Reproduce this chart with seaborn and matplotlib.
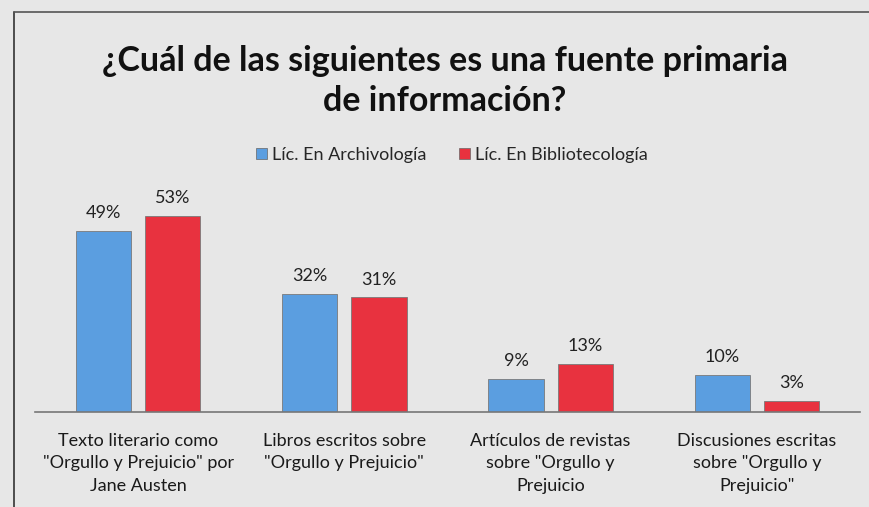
import matplotlib
matplotlib.use("Agg")
import matplotlib.pyplot as plt
import seaborn as sns
import pandas as pd

# data
categories = [
    'Texto literario como\n"Orgullo y Prejuicio" por\nJane Austen',
    'Libros escritos sobre\n"Orgullo y Prejuicio"',
    'Artículos de revistas\nsobre "Orgullo y\nPrejuicio',
    'Discusiones escritas\nsobre "Orgullo y\nPrejuicio"',
]
series_names = ["Líc. En Archivología", "Líc. En Bibliotecología"]
archivologia = [49, 32, 9, 10]
bibliotecologia = [53, 31, 13, 3]
colors = ["#5b9ee0", "#e8323f"]

df = pd.DataFrame({
    "categoria": categories * 2,
    "carrera": [series_names[0]] * 4 + [series_names[1]] * 4,
    "valor": archivologia + bibliotecologia,
})

sns.set_theme(style="white")
plt.rcParams["font.family"] = ["Lato", "DejaVu Sans"]
bg = "#e7e7e7"

fig = plt.figure(figsize=(8.7, 5.07), dpi=100, facecolor=bg)
ax = fig.add_axes([35 / 870, 1 - 412 / 507, 825 / 870, 222 / 507])
ax.set_facecolor(bg)

sns.barplot(data=df, x="categoria", y="valor", hue="carrera",
            palette=colors, saturation=1, width=0.67, gap=0.2, ax=ax,
            edgecolor="#7a7a7a", linewidth=0.6, legend=False)

for cont in ax.containers:
    ax.bar_label(cont, labels=[f"{int(v)}%" for v in cont.datavalues],
                 padding=7, fontsize=13, color="#222222")

ax.set_ylim(0, 60)
ax.set_xlim(-0.5, 3.5)
ax.set_xlabel("")
ax.set_ylabel("")
ax.set_yticks([])
for s in ["top", "right", "left"]:
    ax.spines[s].set_visible(False)
ax.spines["bottom"].set_color("#777777")
ax.spines["bottom"].set_linewidth(1.2)
ax.tick_params(axis="x", length=0, pad=15, labelsize=13, colors="#1a1a1a")
plt.setp(ax.get_xticklabels(), linespacing=1.5)

# legend
handles = [plt.Rectangle((0, 0), 1, 1, fc=c, ec="#666666", lw=0.5) for c in colors]
fig.legend(handles, series_names,
           loc="center", bbox_to_anchor=(452 / 870, 1 - 155 / 507), ncol=2,
           frameon=False, fontsize=13, handlelength=0.6, handleheight=0.6,
           handletextpad=0.3, columnspacing=1.8)

# title
fig.text(445 / 870, 1 - 81 / 507,
         "¿Cuál de las siguientes es una fuente primaria\nde información?",
         ha="center", va="center", fontsize=24.5, fontweight="bold",
         color="#111111", linespacing=1.3)

# frame lines from the original slide
fig.add_artist(plt.Line2D([14 / 870, 14 / 870], [0, 1 - 12 / 507],
                          transform=fig.transFigure, color="#333333", lw=1.2))
fig.add_artist(plt.Line2D([14 / 870, 1], [1 - 12 / 507, 1 - 12 / 507],
                          transform=fig.transFigure, color="#555555", lw=1.2))

fig.savefig("out.png", dpi=100, facecolor=bg)
